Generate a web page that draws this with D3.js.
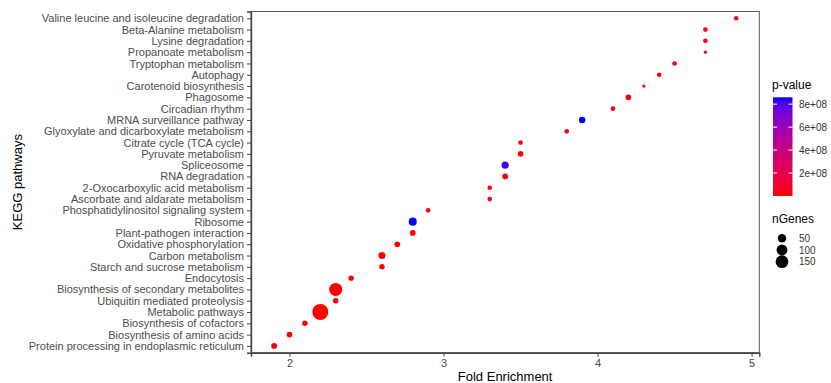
<!DOCTYPE html>
<html><head><meta charset="utf-8">
<script src="https://cdn.jsdelivr.net/npm/d3@7"></script>
<style>
html,body{margin:0;padding:0;background:#fff;}
svg{display:block;font-family:"Liberation Sans",Arial,sans-serif;}
</style></head>
<body>
<svg id="chart" width="831" height="383"></svg>
<script>
// Pathways, top to bottom as displayed
const pathways = [
  "Valine leucine and isoleucine degradation",
  "Beta-Alanine metabolism",
  "Lysine degradation",
  "Propanoate metabolism",
  "Tryptophan metabolism",
  "Autophagy",
  "Carotenoid biosynthesis",
  "Phagosome",
  "Circadian rhythm",
  "MRNA surveillance pathway",
  "Glyoxylate and dicarboxylate metabolism",
  "Citrate cycle (TCA cycle)",
  "Pyruvate metabolism",
  "Spliceosome",
  "RNA degradation",
  "2-Oxocarboxylic acid metabolism",
  "Ascorbate and aldarate metabolism",
  "Phosphatidylinositol signaling system",
  "Ribosome",
  "Plant-pathogen interaction",
  "Oxidative phosphorylation",
  "Carbon metabolism",
  "Starch and sucrose metabolism",
  "Endocytosis",
  "Biosynthesis of secondary metabolites",
  "Ubiquitin mediated proteolysis",
  "Metabolic pathways",
  "Biosynthesis of cofactors",
  "Biosynthesis of amino acids",
  "Protein processing in endoplasmic reticulum"
];
const foldEnrichment = [4.9,4.7,4.7,4.7,4.5,4.4,4.3,4.2,4.1,3.9,3.8,3.5,3.5,3.4,3.4,3.3,3.3,2.9,2.8,2.8,2.7,2.6,2.6,2.4,2.3,2.3,2.2,2.1,2.0,1.9];
const nGenes = [5,5,5,3,5,5,3,9,5,14,5,5,9,19,9,5,5,5,27,9,9,18,8,8,105,8,175,8,9,10];
const pValue = [5e7,4e7,4e7,6e7,4e7,4e7,6e7,2e7,4e7,8.6e8,4e7,3e7,1e7,8.3e8,1e7,3e7,3e7,3e7,8.6e8,1e7,1e7,1e6,1e7,1e7,1e3,1e7,1e-20,1e7,5e6,5e6];
const xTicks = [2,3,4,5];
const colorTicks = [2e8,4e8,6e8,8e8];
const colorTickLabels = ["2e+08","4e+08","6e+08","8e+08"];
const sizeBreaks = [50,100,150];

const data = pathways.map((p,i)=>({path:p, fe:foldEnrichment[i], n:nGenes[i], p:pValue[i]}));

const svg = d3.select("#chart");
const L = 251, R = 759.3, T = 11.5, B = 352.7;

const feExt = d3.extent(foldEnrichment);
const feR = feExt[1]-feExt[0];
const x = d3.scaleLinear().domain([feExt[0]-0.05*feR, feExt[1]+0.05*feR]).range([L,R]);
const y = d3.scalePoint().domain(pathways).range([T,B]).padding(0.6);

const pExt = d3.extent(pValue);
const color = d3.scaleLinear().domain(pExt).range(["#ff0000","#0000ff"]).interpolate(d3.interpolateLab);

const nExt = [3,175];
const nNorm = d3.scaleLinear().domain(nExt).range([0,1]).clamp(true);
const rMin = 1.65, rMax = 8;
const radius = n => rMin + (rMax-rMin)*Math.sqrt(nNorm(n));

// Points
svg.append("g").selectAll("circle").data(data).join("circle")
  .attr("cx", d=>x(d.fe)).attr("cy", d=>y(d.path))
  .attr("r", d=>radius(d.n))
  .attr("fill", d=>color(d.p));

// Panel border
svg.append("rect").attr("x",L).attr("y",T).attr("width",R-L).attr("height",B-T)
  .attr("fill","none").attr("stroke","#5a5a5a").attr("stroke-width",1);

// Axes
const xAxis = svg.append("g").attr("transform",`translate(0,${B})`)
  .call(d3.axisBottom(x).tickValues(xTicks).tickFormat(d3.format("d")).tickSize(4).tickPadding(3));
const yAxis = svg.append("g").attr("transform",`translate(${L},0)`)
  .call(d3.axisLeft(y).tickSize(4).tickPadding(3));
[xAxis,yAxis].forEach(a=>{
  a.select(".domain").attr("stroke","#444").attr("stroke-width",1.4);
  a.selectAll(".tick line").attr("stroke","#444");
  a.selectAll(".tick text").attr("fill","#4d4d4d").style("font-size","11px")
   .style("font-family","'Liberation Sans',Arial,sans-serif");
});

// Axis titles
svg.append("text").attr("x",(L+R)/2).attr("y",381).attr("text-anchor","middle")
  .style("font-size","13px").attr("fill","#000").text("Fold Enrichment");
svg.append("text").attr("transform",`translate(22,${(T+B)/2}) rotate(-90)`).attr("text-anchor","middle")
  .style("font-size","13px").attr("fill","#000").text("KEGG pathways");

// Color legend
const cbX = 773, cbTop = 97.3, cbBot = 196, cbW = 19.5;
svg.append("text").attr("x",772).attr("y",89).style("font-size","12px").attr("fill","#000").text("p-value");
const defs = svg.append("defs");
const grad = defs.append("linearGradient").attr("id","pgrad").attr("x1",0).attr("y1",1).attr("x2",0).attr("y2",0);
d3.range(0,1.0001,0.05).forEach(t=>{
  grad.append("stop").attr("offset",t).attr("stop-color",color(pExt[0]+t*(pExt[1]-pExt[0])));
});
svg.append("rect").attr("x",cbX).attr("y",cbTop).attr("width",cbW).attr("height",cbBot-cbTop).attr("fill","url(#pgrad)");
const cy = d3.scaleLinear().domain(pExt).range([cbBot,cbTop]);
const cbTicks = svg.append("g");
colorTicks.forEach((v,i)=>{
  const yy = cy(v);
  cbTicks.append("line").attr("x1",cbX).attr("x2",cbX+4).attr("y1",yy).attr("y2",yy).attr("stroke","#fff").attr("stroke-width",1);
  cbTicks.append("line").attr("x1",cbX+cbW-4).attr("x2",cbX+cbW).attr("y1",yy).attr("y2",yy).attr("stroke","#fff").attr("stroke-width",1);
  cbTicks.append("text").attr("x",799).attr("y",yy).attr("dy","0.35em").style("font-size","10px").attr("fill","#333").text(colorTickLabels[i]);
});

// Size legend
svg.append("text").attr("x",772).attr("y",223).style("font-size","12px").attr("fill","#000").text("nGenes");
const sizeY = [238.3,250,261.7];
sizeBreaks.forEach((b,i)=>{
  svg.append("circle").attr("cx",782).attr("cy",sizeY[i]).attr("r",radius(b)*0.85).attr("fill","#000");
  svg.append("text").attr("x",799).attr("y",sizeY[i]).attr("dy","0.35em").style("font-size","10px").attr("fill","#333").text(b);
});
</script>
</body></html>
